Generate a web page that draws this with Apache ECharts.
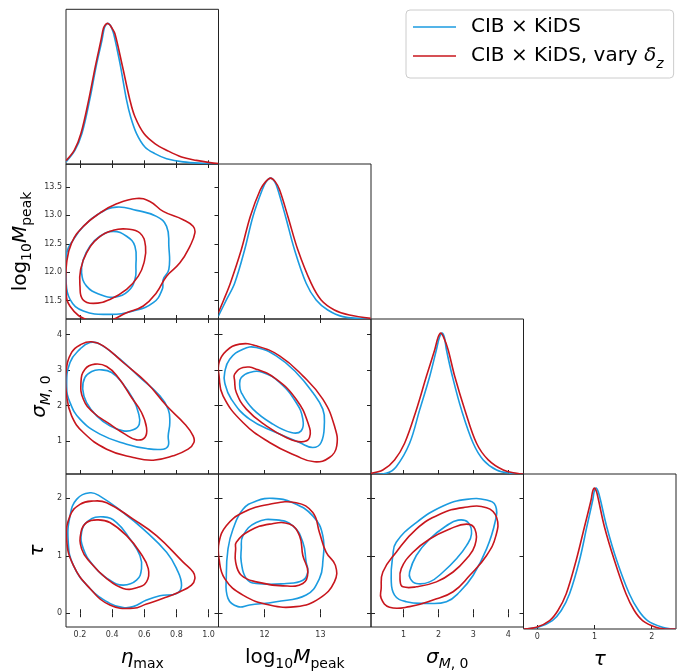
<!DOCTYPE html>
<html>
<head>
<meta charset="utf-8">
<script src="https://cdn.jsdelivr.net/npm/echarts@6/dist/echarts.min.js"></script>
<style>
html, body { margin: 0; padding: 0; background: #fff; }
#main { width: 686px; height: 672px; }
</style>
</head>
<body>
<div id="main"></div>
<script>
// legend names
var nameBlue = 'CIB × KiDS';
var nameRed = 'CIB × KiDS, vary δz';

// axis ranges and ticks
var etaRange = [0.113, 1.062];
var mRange = [11.175, 13.905];
var sigRange = [0.07, 4.435];
var tauRange = [-0.24, 2.425];
var etaTicks = [0.2, 0.4, 0.6, 0.8, 1.0];
var mTicksX = [12, 13];
var mTicksY = [11.5, 12.0, 12.5, 13.0, 13.5];
var sigTicks = [1, 2, 3, 4];
var tauTicks = [0, 1, 2];

// 1D marginals (normalised to peak 1)
var etaBlue = [[0.113,0.017],[0.169,0.10],[0.212,0.218],[0.26,0.455],[0.30,0.692],[0.337,0.882],[0.351,0.965],[0.362,0.99],[0.374,1.0],[0.386,0.99],[0.398,0.965],[0.41,0.925],[0.432,0.811],[0.453,0.692],[0.490,0.455],[0.515,0.337],[0.552,0.218],[0.604,0.123],[0.666,0.076],[0.739,0.040],[0.842,0.017],[0.987,0.005],[1.062,0.0]];
var etaRed = [[0.113,0.025],[0.165,0.10],[0.206,0.218],[0.254,0.455],[0.295,0.692],[0.331,0.882],[0.346,0.965],[0.358,0.99],[0.370,1.0],[0.385,0.99],[0.400,0.965],[0.418,0.925],[0.465,0.692],[0.511,0.455],[0.542,0.337],[0.598,0.218],[0.666,0.147],[0.739,0.10],[0.832,0.052],[0.925,0.028],[1.008,0.012],[1.062,0.005]];
var mBlue = [[11.167,0.017],[11.316,0.135],[11.464,0.254],[11.643,0.491],[11.792,0.728],[11.958,0.917],[12.03,0.975],[12.107,1.0],[12.18,0.975],[12.238,0.917],[12.375,0.728],[12.536,0.491],[12.744,0.254],[12.923,0.135],[13.131,0.064],[13.399,0.017],[13.899,0.0]];
var mRed = [[11.167,0.040],[11.268,0.135],[11.387,0.254],[11.583,0.491],[11.744,0.728],[11.923,0.917],[12.02,0.975],[12.107,1.0],[12.19,0.975],[12.268,0.917],[12.417,0.728],[12.595,0.491],[12.833,0.254],[13.012,0.135],[13.25,0.064],[13.518,0.028],[13.899,0.005]];
var sigBlue = [[0.064,0.0],[0.505,0.005],[0.792,0.052],[1.175,0.218],[1.463,0.455],[1.75,0.692],[1.942,0.882],[2.03,0.97],[2.104,1.0],[2.17,0.97],[2.229,0.882],[2.401,0.692],[2.66,0.455],[2.995,0.218],[3.283,0.10],[3.666,0.028],[4.049,0.005],[4.432,0.0]];
var sigRed = [[0.064,0.005],[0.409,0.028],[0.744,0.10],[1.032,0.218],[1.367,0.455],[1.654,0.692],[1.894,0.882],[1.99,0.97],[2.066,1.0],[2.15,0.97],[2.277,0.882],[2.468,0.692],[2.756,0.455],[3.091,0.218],[3.426,0.10],[3.857,0.028],[4.24,0.005],[4.432,0.0]];
var tauBlue = [[-0.246,0],[0.014,0.012],[0.264,0.06],[0.42,0.131],[0.565,0.25],[0.739,0.488],[0.867,0.726],[0.971,0.917],[0.995,0.975],[1.029,1.0],[1.065,0.975],[1.104,0.917],[1.214,0.726],[1.388,0.488],[1.609,0.25],[1.771,0.131],[1.928,0.06],[2.188,0.012],[2.362,0.0],[2.42,0]];
var tauRed = [[-0.246,0],[-0.014,0.012],[0.217,0.06],[0.362,0.131],[0.507,0.25],[0.681,0.488],[0.826,0.726],[0.942,0.917],[0.967,0.975],[1.0,1.0],[1.035,0.975],[1.07,0.917],[1.174,0.726],[1.348,0.488],[1.551,0.25],[1.696,0.131],[1.841,0.06],[2.072,0.012],[2.246,0.0],[2.42,0]];

// 2D contours (68% / 95%), closed loops
var etaMBlue68 = [[0.407,12.719],[0.490,12.632],[0.542,12.456],[0.548,12.105],[0.542,11.871],[0.500,11.667],[0.418,11.561],[0.324,11.608],[0.241,11.754],[0.210,11.988],[0.221,12.222],[0.262,12.456],[0.324,12.632]];
var etaMRed68 = [[0.490,12.760],[0.573,12.690],[0.608,12.456],[0.598,12.164],[0.563,11.930],[0.490,11.696],[0.386,11.520],[0.283,11.450],[0.217,11.520],[0.2,11.754],[0.204,12.047],[0.241,12.339],[0.314,12.602],[0.407,12.737]];
var etaMBlue95 = [[0.428,13.146],[0.552,13.088],[0.676,12.982],[0.739,12.807],[0.753,12.456],[0.753,12.047],[0.718,11.871],[0.712,11.696],[0.656,11.462],[0.531,11.316],[0.386,11.257],[0.221,11.316],[0.138,11.520],[0.113,11.871],[0.117,12.339],[0.159,12.573],[0.221,12.807],[0.324,13.041]];
var etaMRed95 = [[0.552,13.298],[0.635,13.246],[0.718,13.070],[0.842,12.924],[0.904,12.807],[0.915,12.690],[0.884,12.456],[0.822,12.164],[0.739,11.930],[0.676,11.637],[0.594,11.404],[0.490,11.287],[0.386,11.15],[0.262,11.14],[0.138,11.40],[0.113,11.754],[0.117,12.164],[0.148,12.515],[0.221,12.807],[0.324,13.041],[0.428,13.205]];

var etaSigBlue68 = [[0.324,3.004],[0.397,2.929],[0.469,2.600],[0.531,2.177],[0.563,1.802],[0.569,1.473],[0.531,1.314],[0.469,1.285],[0.386,1.426],[0.304,1.708],[0.241,2.083],[0.217,2.459],[0.231,2.788],[0.273,2.957]];
var etaSigRed68 = [[0.293,3.163],[0.366,3.098],[0.438,2.788],[0.521,2.224],[0.583,1.802],[0.614,1.379],[0.604,1.098],[0.552,1.032],[0.480,1.192],[0.386,1.473],[0.283,1.802],[0.221,2.177],[0.206,2.647],[0.231,3.023]];
var etaSigBlue95 = [[0.262,3.774],[0.324,3.727],[0.449,3.304],[0.573,2.788],[0.697,2.271],[0.749,1.896],[0.759,1.520],[0.749,1.145],[0.749,0.863],[0.718,0.769],[0.614,0.788],[0.490,0.910],[0.324,1.192],[0.2,1.614],[0.138,2.083],[0.117,2.553],[0.138,3.210],[0.2,3.586]];
var etaSigRed95 = [[0.273,3.793],[0.345,3.680],[0.469,3.210],[0.614,2.647],[0.739,1.990],[0.853,1.473],[0.904,1.145],[0.909,0.957],[0.873,0.769],[0.780,0.582],[0.656,0.459],[0.531,0.535],[0.366,0.769],[0.221,1.238],[0.148,1.708],[0.117,2.271],[0.113,2.929],[0.148,3.492],[0.210,3.727]];

var etaTauBlue68 = [[0.345,1.678],[0.428,1.580],[0.511,1.293],[0.573,1.006],[0.583,0.776],[0.552,0.575],[0.469,0.489],[0.386,0.575],[0.283,0.833],[0.221,1.121],[0.210,1.408],[0.252,1.609]];
var etaTauRed68 = [[0.314,1.626],[0.386,1.580],[0.490,1.351],[0.573,1.063],[0.625,0.776],[0.614,0.546],[0.552,0.443],[0.469,0.431],[0.366,0.603],[0.262,0.891],[0.210,1.121],[0.206,1.408],[0.241,1.580]];
var etaTauBlue95 = [[0.262,2.098],[0.324,2.040],[0.469,1.753],[0.594,1.466],[0.739,1.063],[0.801,0.776],[0.832,0.489],[0.801,0.345],[0.697,0.305],[0.614,0.229],[0.531,0.115],[0.469,0.098],[0.386,0.172],[0.262,0.431],[0.159,0.833],[0.127,1.236],[0.138,1.695],[0.179,1.983]];
var etaTauRed95 = [[0.283,1.954],[0.366,1.925],[0.531,1.638],[0.676,1.351],[0.842,0.891],[0.904,0.718],[0.915,0.603],[0.894,0.489],[0.822,0.374],[0.718,0.259],[0.614,0.161],[0.531,0.086],[0.386,0.144],[0.262,0.431],[0.159,0.833],[0.117,1.293],[0.138,1.695],[0.2,1.897]];

var mSigBlue68 = [[11.583,2.788],[11.732,2.929],[11.970,2.929],[12.268,2.647],[12.565,2.083],[12.685,1.614],[12.655,1.285],[12.476,1.238],[12.149,1.473],[11.792,1.896],[11.583,2.365],[11.554,2.600]];
var mSigRed68 = [[11.464,2.882],[11.613,3.069],[11.851,3.023],[12.208,2.741],[12.565,2.177],[12.774,1.520],[12.804,1.098],[12.655,0.976],[12.387,1.098],[12.030,1.426],[11.673,1.896],[11.494,2.365],[11.464,2.694]];
var mSigBlue95 = [[11.286,2.929],[11.375,3.304],[11.613,3.586],[11.851,3.633],[12.208,3.398],[12.565,2.929],[12.863,2.365],[13.042,1.896],[13.071,1.520],[13.012,0.957],[12.863,0.816],[12.625,0.957],[12.208,1.238],[11.732,1.614],[11.405,2.177],[11.286,2.647]];
var mSigRed95 = [[11.185,3.210],[11.315,3.539],[11.554,3.727],[11.851,3.680],[12.268,3.398],[12.685,2.835],[13.042,2.177],[13.25,1.426],[13.292,0.863],[13.161,0.535],[12.893,0.413],[12.565,0.582],[12.089,0.957],[11.613,1.520],[11.256,2.271],[11.185,2.835]];

var mTauBlue68 = [[11.613,1.351],[11.851,1.580],[12.208,1.626],[12.506,1.523],[12.685,1.236],[12.744,0.891],[12.774,0.718],[12.685,0.575],[12.387,0.517],[11.851,0.517],[11.673,0.603],[11.583,0.891],[11.583,1.121]];
var mTauRed68 = [[11.494,1.236],[11.732,1.437],[12.089,1.552],[12.446,1.552],[12.625,1.351],[12.685,1.006],[12.774,0.718],[12.685,0.517],[12.327,0.477],[11.851,0.546],[11.583,0.661],[11.482,0.891],[11.482,1.121]];
var mTauBlue95 = [[11.613,1.810],[11.851,1.954],[12.149,2.0],[12.506,1.925],[12.863,1.695],[13.042,1.351],[13.042,0.891],[12.982,0.603],[12.744,0.316],[12.208,0.201],[11.732,0.144],[11.524,0.115],[11.345,0.259],[11.315,0.661],[11.345,1.121],[11.435,1.466]];
var mTauRed95 = [[11.185,1.236],[11.315,1.523],[11.613,1.753],[12.089,1.897],[12.565,1.925],[12.863,1.753],[12.982,1.408],[13.101,1.063],[13.268,0.833],[13.25,0.546],[12.982,0.259],[12.565,0.115],[12.089,0.144],[11.613,0.316],[11.286,0.603],[11.185,0.948]];

var sigTauBlue68 = [[1.175,0.718],[1.367,1.006],[1.750,1.293],[2.229,1.523],[2.564,1.621],[2.851,1.580],[2.947,1.379],[2.803,1.178],[2.516,0.948],[2.133,0.718],[1.750,0.546],[1.367,0.517],[1.195,0.603]];
var sigTauRed68 = [[0.907,0.546],[0.936,0.776],[1.271,1.063],[1.750,1.293],[2.325,1.466],[2.803,1.552],[3.043,1.466],[3.043,1.178],[2.803,0.948],[2.420,0.718],[1.942,0.546],[1.367,0.460],[0.984,0.460]];
var sigTauBlue95 = [[0.792,1.236],[1.367,1.580],[2.133,1.868],[2.803,1.983],[3.378,1.971],[3.637,1.868],[3.618,1.580],[3.378,1.121],[2.995,0.661],[2.612,0.374],[2.229,0.201],[1.654,0.172],[1.080,0.201],[0.744,0.316],[0.648,0.603],[0.696,1.006]];
var sigTauRed95 = [[0.361,0.431],[0.409,0.718],[0.792,1.063],[1.367,1.466],[2.037,1.724],[2.708,1.839],[3.378,1.839],[3.666,1.667],[3.646,1.351],[3.378,1.006],[2.899,0.661],[2.420,0.374],[1.846,0.230],[1.175,0.115],[0.601,0.103],[0.361,0.259]];

var blue = '#1b9be0';
var red = '#c8161d';

var rich = {
	n: { fontSize: 20, fontFamily: 'DejaVu Sans', lineHeight: 26, color: '#000' },
	i: { fontSize: 20, fontFamily: 'DejaVu Sans', fontStyle: 'italic', lineHeight: 26, color: '#000' },
	s: { fontSize: 14, fontFamily: 'DejaVu Sans', lineHeight: 14, verticalAlign: 'bottom', color: '#000' },
	si: { fontSize: 14, fontFamily: 'DejaVu Sans', fontStyle: 'italic', lineHeight: 14, verticalAlign: 'bottom', color: '#000' }
};

var params = [
	{ label: '{i|η}{s|max}', range: etaRange, xt: etaTicks, yt: etaTicks, fx: function (v) { return v.toFixed(1); }, fy: function (v) { return v.toFixed(1); }, gap: 12 },
	{ label: '{n|log}{s|10}{i|M}{s|peak}', range: mRange, xt: mTicksX, yt: mTicksY, fx: function (v) { return String(v); }, fy: function (v) { return v.toFixed(1); }, gap: 32 },
	{ label: '{i|σ}{si|M}{s|, 0}', range: sigRange, xt: sigTicks, yt: sigTicks, fx: function (v) { return String(v); }, fy: function (v) { return String(v); }, gap: 11 },
	{ label: '{i|τ}', range: tauRange, xt: tauTicks, yt: tauTicks, fx: function (v) { return String(v); }, fy: function (v) { return String(v); }, gap: 15 }
];
var marginals = [[etaBlue, etaRed], [mBlue, mRed], [sigBlue, sigRed], [tauBlue, tauRed]];
// key: row + '' + col
var contours = {
	'10': [etaMBlue95, etaMBlue68, etaMRed95, etaMRed68],
	'20': [etaSigBlue95, etaSigBlue68, etaSigRed95, etaSigRed68],
	'30': [etaTauBlue95, etaTauBlue68, etaTauRed95, etaTauRed68],
	'21': [mSigBlue95, mSigBlue68, mSigRed95, mSigRed68],
	'31': [mTauBlue95, mTauBlue68, mTauRed95, mTauRed68],
	'32': [sigTauBlue95, sigTauBlue68, sigTauRed95, sigTauRed68]
};

var colLeft = [66, 218.5, 371, 523.5];
var rowTop = [9.3, 164, 319, 474];
var W = 152.5, H = 155;

var grids = [], xAxes = [], yAxes = [], series = [];

function tickAxis(p, gi, pos, ticks, fmt, showLabel, showName, isY) {
	return {
		type: 'value', gridIndex: gi, position: pos,
		min: p.range[0], max: p.range[1],
		axisLine: { show: false },
		splitLine: { show: false },
		axisTick: { show: true, inside: true, length: 4, customValues: ticks, lineStyle: { color: '#222', width: 1 } },
		axisLabel: { show: showLabel, customValues: ticks, formatter: fmt, margin: 4, fontSize: 8, color: '#333', fontFamily: 'DejaVu Sans' },
		name: showName ? p.label : '',
		nameLocation: 'middle',
		nameGap: isY ? p.gap : 18,
		nameRotate: isY ? 90 : 0,
		nameTextStyle: { rich: rich }
	};
}

// one custom series per curve: the whole curve is drawn once, through api.coord
function addCurve(name, color, xi, yi, pts, closed) {
	series.push({
		type: 'custom', name: name, xAxisIndex: xi, yAxisIndex: yi, data: pts,
		encode: { x: 0, y: 1 }, silent: true, animation: false,
		itemStyle: { color: color },
		z: color === red ? 3 : 2,
		renderItem: function (params, api) {
			if (params.dataIndex !== 0) return null;
			var points = pts.map(function (d) { return api.coord(d); });
			var cs = params.coordSys;
			return {
				type: closed ? 'polygon' : 'polyline',
				shape: { points: points, smooth: closed ? 0.45 : 0.35 },
				style: { fill: 'none', stroke: color, lineWidth: 1.6 },
				clipPath: { type: 'rect', shape: { x: cs.x, y: cs.y, width: cs.width, height: cs.height } }
			};
		}
	});
}

for (var r = 0; r < 4; r++) {
	for (var c = 0; c <= r; c++) {
		var gi = grids.length;
		grids.push({ left: colLeft[c], top: rowTop[r], width: W, height: H, show: true, borderColor: '#222', borderWidth: 1, backgroundColor: 'transparent' });
		var px = params[c], py = params[r];
		var bottomRow = r === 3;
		var xi = xAxes.length;
		xAxes.push(tickAxis(px, gi, 'bottom', px.xt, px.fx, bottomRow, bottomRow, false));
		if (r === c) {
			var yi = yAxes.length;
			yAxes.push({ type: 'value', gridIndex: gi, min: 0, max: 1.1, show: false });
			addCurve(nameBlue, blue, xi, yi, marginals[c][0], false);
			addCurve(nameRed, red, xi, yi, marginals[c][1], false);
		} else {
			xAxes.push(tickAxis(px, gi, 'top', px.xt, px.fx, false, false, false));
			var yi2 = yAxes.length;
			yAxes.push(tickAxis(py, gi, 'left', py.yt, py.fy, c === 0, c === 0, true));
			yAxes.push(tickAxis(py, gi, 'right', py.yt, py.fy, false, false, true));
			var set = contours[r + '' + c];
			addCurve(nameBlue, blue, xi, yi2, set[0], true);
			addCurve(nameBlue, blue, xi, yi2, set[1], true);
			addCurve(nameRed, red, xi, yi2, set[2], true);
			addCurve(nameRed, red, xi, yi2, set[3], true);
		}
	}
}

var lineIcon = 'path://M0,0H43V1.6H0Z';

var chart = echarts.init(document.getElementById('main'), null, { renderer: 'canvas' });
chart.setOption({
	animation: false,
	backgroundColor: '#fff',
	grid: grids,
	xAxis: xAxes,
	yAxis: yAxes,
	legend: {
		orient: 'vertical', left: 406, top: 10,
		itemWidth: 43, itemHeight: 1.6, itemGap: 9,
		padding: [7, 10, 7, 7],
		borderColor: '#ccc', borderWidth: 1, borderRadius: 4, backgroundColor: '#fff',
		selectedMode: false,
		data: [{ name: nameBlue, icon: lineIcon }, { name: nameRed, icon: lineIcon }],
		formatter: function (name) {
			if (name === nameRed) return '{n|CIB × KiDS, vary }{i|δ}{si|z}';
			return '{n|CIB × KiDS}';
		},
		textStyle: { padding: [0, 0, 0, 10], rich: {
			n: { fontSize: 20, fontFamily: 'DejaVu Sans', lineHeight: 30, color: '#000' },
			i: { fontSize: 20, fontFamily: 'DejaVu Sans', fontStyle: 'italic', lineHeight: 30, color: '#000' },
			si: { fontSize: 14, fontFamily: 'DejaVu Sans', fontStyle: 'italic', lineHeight: 18, verticalAlign: 'bottom', color: '#000' }
		} }
	},
	series: series
});
</script>
</body>
</html>
